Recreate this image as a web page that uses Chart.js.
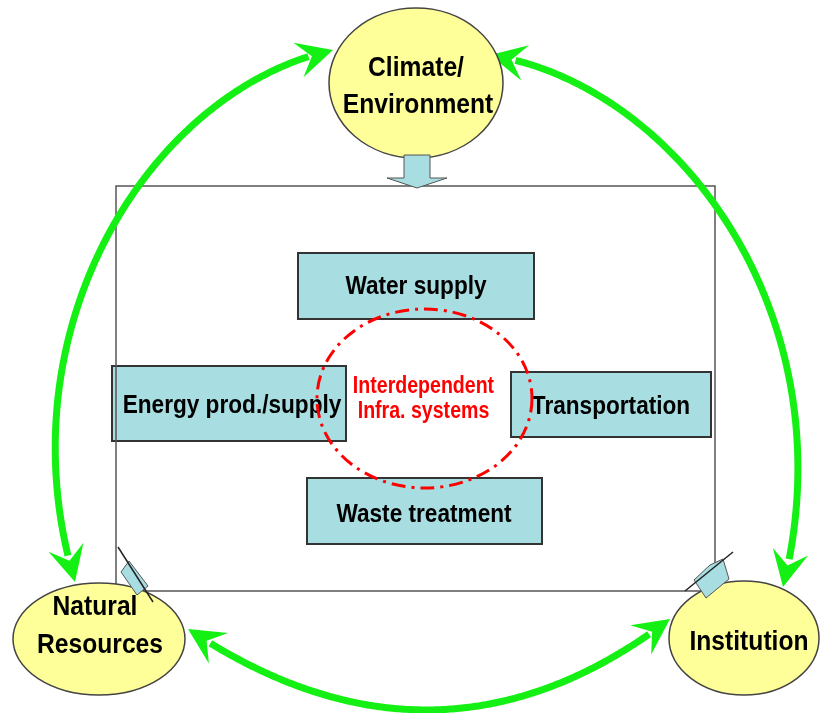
<!DOCTYPE html>
<html>
<head>
<meta charset="utf-8">
<script src="https://cdn.jsdelivr.net/npm/chart.js@4.4.1/dist/chart.umd.min.js"></script>
<style>
  html, body { margin: 0; padding: 0; background: #fff; }
  #wrap { width: 820px; height: 713px; }
</style>
</head>
<body>
<div id="wrap"><canvas id="diagram"></canvas></div>
<script>
// ======== Dados ========
const outerNodes = ["Climate/\nEnvironment", "Natural\nResources", "Institution"];
const infraSystems = ["Water supply", "Energy prod./supply", "Transportation", "Waste treatment"];
const coreLabel = ["Interdependent", "Infra. systems"];
// ligações de duas pontas entre os nós externos
const outerLinks = [[0, 1], [0, 2], [1, 2]];

// ======== Layout (unidades do gráfico = px da figura) ========
const outerGeom = [
  { x: 416, y: 83, rx: 87, ry: 75, base: [76, 113], tx: [416, 418] },
  { x: 99, y: 639, rx: 86, ry: 56, base: [615, 653], tx: [95, 100] },
  { x: 744, y: 638, rx: 75, ry: 57, base: [650], tx: [749] },
];
const boxGeom = [
  { x1: 298, y1: 253, x2: 534, y2: 319, tx: 416, base: 294 },
  { x1: 112, y1: 366, x2: 346, y2: 441, tx: 232, base: 413 },
  { x1: 511, y1: 372, x2: 711, y2: 437, tx: 611, base: 414 },
  { x1: 307, y1: 478, x2: 542, y2: 544, tx: 424, base: 522 },
];
const frame = { x1: 116, y1: 186, x2: 715, y2: 591 };
const core = { x: 424.5, y: 398.5, rx: 107.5, ry: 89.5, tx: 423.5, base: [393, 418] };
const linkCurves = [
  [[333, 50], [150, 90], [0, 330], [75, 582]],
  [[490, 55], [680, 85], [850, 320], [783, 587]],
  [[188, 629], [354, 740], [515, 737], [670, 619]],
];
const inflowShapes = [
  [[404, 155], [430, 155], [430, 178], [447, 178], [417, 188], [387, 178], [404, 178]],
  [[121, 572], [129, 561], [148, 586], [137, 595]],
  [[694, 580], [706, 598], [729, 579], [723, 559], [710, 565]],
];
const inflowEdges = [null, [[118, 547], [153, 602]], [[685, 591], [733, 552]]];

const GREEN = "#14f014";
const BOX_FILL = "#a8dde1";
const NODE_FILL = "#ffff99";
const FONT = '"Liberation Sans", Arial, sans-serif';

// ======== Funções de desenho ========
function P(chart, x, y) {
  return { x: chart.scales.x.getPixelForValue(x), y: chart.scales.y.getPixelForValue(y) };
}

function texto(ctx, str, x, y, size, sx, color) {
  ctx.save();
  ctx.translate(x, y);
  ctx.scale(sx, 1);
  ctx.font = "bold " + size + "px " + FONT;
  ctx.textAlign = "center";
  ctx.textBaseline = "alphabetic";
  ctx.fillStyle = color;
  ctx.fillText(str, 0, 0);
  ctx.restore();
}

function elipse(chart, ctx, cx, cy, rx, ry) {
  const c = P(chart, cx, cy);
  const rxp = Math.abs(chart.scales.x.getPixelForValue(cx + rx) - c.x);
  const ryp = Math.abs(chart.scales.y.getPixelForValue(cy + ry) - c.y);
  ctx.beginPath();
  ctx.ellipse(c.x, c.y, rxp, ryp, 0, 0, Math.PI * 2);
}

function poligono(chart, ctx, pts) {
  ctx.beginPath();
  pts.forEach((p, i) => {
    const q = P(chart, p[0], p[1]);
    if (i === 0) ctx.moveTo(q.x, q.y); else ctx.lineTo(q.x, q.y);
  });
  ctx.closePath();
}

function amostrarCurva(chart, pts, n) {
  const out = [];
  for (let i = 0; i <= n; i++) {
    const t = i / n, u = 1 - t;
    const a = u * u * u, b = 3 * u * u * t, c = 3 * u * t * t, d = t * t * t;
    const x = a * pts[0][0] + b * pts[1][0] + c * pts[2][0] + d * pts[3][0];
    const y = a * pts[0][1] + b * pts[1][1] + c * pts[2][1] + d * pts[3][1];
    out.push(P(chart, x, y));
  }
  return out;
}

function indiceDistancia(pts, dist) {
  let acc = 0;
  for (let i = 1; i < pts.length; i++) {
    acc += Math.hypot(pts[i].x - pts[i - 1].x, pts[i].y - pts[i - 1].y);
    if (acc >= dist) return i;
  }
  return pts.length - 1;
}

function ponta(ctx, tip, from) {
  const L = 36, W = 18, N = 22;
  let dx = tip.x - from.x, dy = tip.y - from.y;
  const len = Math.hypot(dx, dy);
  dx /= len; dy /= len;
  const nx = -dy, ny = dx;
  const bx = tip.x - dx * L, by = tip.y - dy * L;
  ctx.beginPath();
  ctx.moveTo(tip.x, tip.y);
  ctx.lineTo(bx + nx * W, by + ny * W);
  ctx.lineTo(tip.x - dx * N, tip.y - dy * N);
  ctx.lineTo(bx - nx * W, by - ny * W);
  ctx.closePath();
  ctx.fill();
}

const diagramPlugin = {
  id: "diagrama",
  afterDatasetsDraw(chart) {
    const ctx = chart.ctx;
    ctx.save();

    // caixas dos sistemas
    boxGeom.forEach((b) => {
      const a = P(chart, b.x1, b.y1), z = P(chart, b.x2, b.y2);
      ctx.fillStyle = BOX_FILL;
      ctx.fillRect(a.x, a.y, z.x - a.x, z.y - a.y);
      ctx.strokeStyle = "#333";
      ctx.lineWidth = 2;
      ctx.strokeRect(a.x, a.y, z.x - a.x, z.y - a.y);
    });

    // moldura
    const fa = P(chart, frame.x1, frame.y1), fz = P(chart, frame.x2, frame.y2);
    ctx.strokeStyle = "#555";
    ctx.lineWidth = 1.5;
    ctx.strokeRect(fa.x, fa.y, fz.x - fa.x, fz.y - fa.y);

    infraSystems.forEach((name, i) => {
      const b = boxGeom[i];
      const p = P(chart, b.tx, b.base);
      texto(ctx, name, p.x, p.y, 26, 0.87, "#000");
    });

    // elipse tracejada central
    elipse(chart, ctx, core.x, core.y, core.rx, core.ry);
    ctx.setLineDash([14, 6, 3, 6]);
    ctx.strokeStyle = "#ff0000";
    ctx.lineWidth = 3;
    ctx.stroke();
    ctx.setLineDash([]);
    coreLabel.forEach((line, i) => {
      const p = P(chart, core.tx, core.base[i]);
      texto(ctx, line, p.x, p.y, 24, 0.815, "#ff0000");
    });

    // arcos verdes
    ctx.strokeStyle = GREEN;
    ctx.fillStyle = GREEN;
    ctx.lineWidth = 7;
    ctx.lineCap = "butt";
    outerLinks.forEach((link, i) => {
      const pts = amostrarCurva(chart, linkCurves[i], 200);
      const i0 = indiceDistancia(pts, 25);
      const rev = pts.slice().reverse();
      const i1 = pts.length - 1 - indiceDistancia(rev, 25);
      ctx.beginPath();
      for (let k = i0; k <= i1; k++) {
        if (k === i0) ctx.moveTo(pts[k].x, pts[k].y); else ctx.lineTo(pts[k].x, pts[k].y);
      }
      ctx.stroke();
      ponta(ctx, pts[0], pts[indiceDistancia(pts, 34)]);
      ponta(ctx, rev[0], rev[indiceDistancia(rev, 34)]);
    });

    // nós externos
    outerNodes.forEach((name, i) => {
      const g = outerGeom[i];
      elipse(chart, ctx, g.x, g.y, g.rx, g.ry);
      ctx.fillStyle = NODE_FILL;
      ctx.fill();
      ctx.strokeStyle = "#444";
      ctx.lineWidth = 1.5;
      ctx.stroke();
      name.split("\n").forEach((line, k) => {
        const p = P(chart, g.tx[k], g.base[k]);
        texto(ctx, line, p.x, p.y, 28, 0.88, "#000");
      });
    });

    // setas de entrada na moldura
    inflowShapes.forEach((shape, i) => {
      poligono(chart, ctx, shape);
      ctx.fillStyle = BOX_FILL;
      ctx.fill();
      ctx.strokeStyle = "#555";
      ctx.lineWidth = 1;
      ctx.stroke();
      const e = inflowEdges[i];
      if (e) {
        const a = P(chart, e[0][0], e[0][1]), z = P(chart, e[1][0], e[1][1]);
        ctx.strokeStyle = "#222";
        ctx.lineWidth = 1.5;
        ctx.beginPath();
        ctx.moveTo(a.x, a.y);
        ctx.lineTo(z.x, z.y);
        ctx.stroke();
      }
    });

    ctx.restore();
  },
};

new Chart(document.getElementById("diagram"), {
  type: "scatter",
  data: {
    datasets: [
      { label: "outer", data: outerGeom.map((g) => ({ x: g.x, y: g.y })), pointRadius: 0 },
      { label: "infra", data: boxGeom.map((b) => ({ x: (b.x1 + b.x2) / 2, y: (b.y1 + b.y2) / 2 })), pointRadius: 0 },
    ],
  },
  options: {
    responsive: true,
    maintainAspectRatio: false,
    animation: false,
    events: [],
    layout: { padding: 0 },
    plugins: { legend: { display: false }, tooltip: { enabled: false } },
    scales: {
      x: { type: "linear", min: 0, max: 820, display: false },
      y: { type: "linear", min: 0, max: 713, reverse: true, display: false },
    },
  },
  plugins: [diagramPlugin],
});
</script>
</body>
</html>
